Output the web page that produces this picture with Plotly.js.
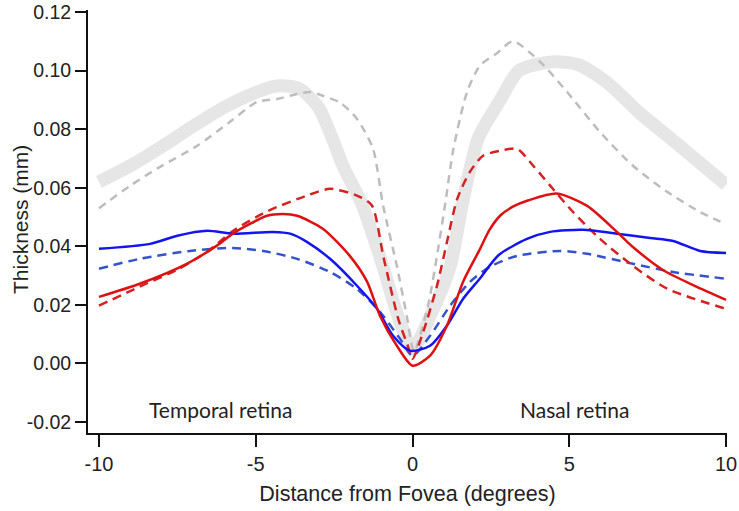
<!DOCTYPE html>
<html>
<head>
<meta charset="utf-8">
<script src="https://cdn.plot.ly/plotly-3.0.1.min.js"></script>
<style>html,body{margin:0;padding:0;background:#fff;}#chart{width:739px;height:511px;}</style>
</head>
<body>
<div id="chart"></div>
<script>
// ---- data ----
const xGraySolid = [-10, -9, -8, -7, -6, -5, -4.3, -3.6, -3.0, -2.6, -2.2, -1.6, -0.94, -0.46, 0, 0.6, 1.2, 1.6, 2.1, 2.8, 3.4, 4.5, 5.3, 6.2, 7.3, 8.1, 9, 10];
const yGraySolid = [0.062, 0.0675, 0.074, 0.081, 0.0875, 0.0925, 0.0948, 0.0938, 0.0875, 0.078, 0.067, 0.054, 0.033, 0.016, 0.005, 0.017, 0.033, 0.055, 0.077, 0.090, 0.100, 0.103, 0.102, 0.096, 0.085, 0.078, 0.070, 0.061];

const xGrayDash = [-10, -9, -8.15, -6.87, -5.82, -4.96, -4.32, -3.68, -3.27, -2.86, -2.3, -1.77, -1.26, -0.94, -0.5, -0.18, 0.05, 0.5, 0.8, 1.05, 1.3, 1.74, 2.15, 2.7, 3.2, 4.07, 4.93, 5.98, 7.03, 8.12, 9.17, 10];
const yGrayDash = [0.053, 0.0607, 0.0665, 0.0743, 0.0825, 0.0893, 0.0903, 0.092, 0.0927, 0.0914, 0.089, 0.0835, 0.0733, 0.054, 0.0333, 0.016, 0.004, 0.02, 0.038, 0.055, 0.073, 0.0927, 0.1017, 0.106, 0.110, 0.103, 0.0927, 0.079, 0.0675, 0.0586, 0.0517, 0.0475];

const xRedSolid = [-10, -8.7, -7.2, -6.24, -5.73, -4.64, -4.13, -3.68, -2.86, -2.0, -1.45, -1.04, -0.5, 0, 0.56, 1.1, 1.61, 2.15, 2.45, 2.8, 3.2, 3.7, 4.6, 5.57, 6.52, 7.0, 8.0, 9.0, 10];
const yRedSolid = [0.0227, 0.0272, 0.034, 0.0402, 0.0443, 0.0504, 0.051, 0.0504, 0.046, 0.0367, 0.0279, 0.0163, 0.006, -0.0008, 0.0026, 0.0129, 0.0278, 0.039, 0.0455, 0.0505, 0.0535, 0.0557, 0.058, 0.0538, 0.0449, 0.040, 0.0318, 0.0265, 0.0217];

const xRedDash = [-10, -8.7, -7.5, -6.5, -5.73, -4.64, -3.37, -2.63, -1.77, -1.3, -0.92, -0.45, -0.15, 0, 0.34, 0.78, 1.1, 1.42, 1.83, 2.25, 2.79, 3.33, 3.85, 4.39, 5.12, 5.98, 7.03, 8.12, 10];
const yRedDash = [0.0197, 0.0262, 0.032, 0.0385, 0.0452, 0.0519, 0.0573, 0.0596, 0.0573, 0.054, 0.036, 0.015, 0.006, 0.0016, 0.0107, 0.0265, 0.0415, 0.056, 0.0654, 0.0709, 0.0726, 0.0733, 0.0675, 0.0607, 0.0517, 0.0425, 0.0333, 0.0255, 0.0186];

const xBlueSolid = [-10, -8.37, -7.5, -6.55, -5.73, -4.45, -3.9, -3.37, -2.63, -1.77, -1.13, -0.62, -0.08, 0.56, 1.1, 1.61, 2.15, 2.75, 3.65, 4.39, 5.44, 6.52, 7.58, 8.31, 9.17, 10];
const yBlueSolid = [0.0391, 0.0408, 0.0436, 0.0453, 0.0443, 0.0449, 0.0443, 0.0415, 0.0357, 0.0265, 0.0186, 0.0094, 0.0043, 0.006, 0.0129, 0.022, 0.029, 0.037, 0.0425, 0.0449, 0.0456, 0.0443, 0.0428, 0.0418, 0.0384, 0.0377];

const xBlueDash = [-10, -8.7, -7.1, -5.73, -4.77, -3.68, -2.63, -1.77, -1.04, -0.4, 0, 0.56, 1.2, 1.83, 2.47, 3.33, 4.7, 5.57, 7.03, 8.31, 10];
const yBlueDash = [0.0323, 0.0357, 0.0384, 0.0394, 0.0384, 0.0357, 0.0312, 0.0254, 0.0176, 0.0084, 0.0026, 0.0094, 0.0197, 0.0278, 0.033, 0.0367, 0.0384, 0.0374, 0.034, 0.0312, 0.0289];

const xTickVals = [-10, -5, 0, 5, 10];
const xTickText = ["-10", "-5", "0", "5", "10"];
const yTickVals = [-0.02, 0, 0.02, 0.04, 0.06, 0.08, 0.10, 0.12];
const yTickText = ["-0.02", "0.00", "0.02", "0.04", "0.06", "0.08", "0.10", "0.12"];

const xTitle = 'Distance from Fovea (degrees)';
const yTitle = 'Thickness (mm)';
const regionLabels = ["Temporal retina", "Nasal retina"];
const regionX = [-6.14, 5.18];
const regionY = [-0.0158, -0.0158];

function tr(x, y, color, width, dash) {
  return {x: x, y: y, type: 'scatter', mode: 'lines', hoverinfo: 'skip',
    line: {color: color, width: width, dash: dash, shape: 'spline', smoothing: 0.7}};
}

const traces = [
  tr(xGraySolid, yGraySolid, '#e6e6e6', 13, 'solid'),
  tr(xGrayDash, yGrayDash, '#bdbdbd', 2.5, '8px,6px'),
  tr(xBlueDash, yBlueDash, '#3352cc', 2.5, '9px,6px'),
  tr(xRedDash, yRedDash, '#d42222', 2.5, '9px,6px'),
  tr(xBlueSolid, yBlueSolid, '#1414f0', 2.5, 'solid'),
  tr(xRedSolid, yRedSolid, '#dd1111', 2.5, 'solid')
];

const annotations = regionLabels.map((t, i) => ({
  x: regionX[i], y: regionY[i], xref: 'x', yref: 'y', text: t, showarrow: false,
  font: {family: 'Lato, Open Sans, sans-serif', size: 21, color: '#222'}
}));
annotations.push({
  x: -0.1064, y: 0.5035, xref: 'paper', yref: 'paper', text: yTitle, showarrow: false,
  textangle: -90, xanchor: 'center', yanchor: 'middle',
  font: {family: 'Liberation Sans, Arial, sans-serif', size: 21, color: '#222'}
});

const layout = {
  width: 739, height: 511,
  margin: {l: 88, r: 12, t: 10, b: 78},
  paper_bgcolor: '#fff', plot_bgcolor: '#fff',
  showlegend: false,
  font: {family: 'Liberation Sans, Arial, sans-serif', size: 19, color: '#222'},
  xaxis: {
    range: [-10.35, 10.03], showgrid: false, zeroline: false,
    showline: true, linecolor: '#111', linewidth: 2,
    ticks: 'outside', ticklen: 12, tickwidth: 2, tickcolor: '#111',
    tickvals: xTickVals, ticktext: xTickText,
    tickfont: {size: 20, color: '#222'},
    title: {text: xTitle, font: {size: 21.5, color: '#222'}, standoff: 12}
  },
  yaxis: {
    range: [-0.0238, 0.1207], showgrid: false, zeroline: false,
    showline: true, linecolor: '#111', linewidth: 2,
    ticks: 'outside', ticklen: 11, tickwidth: 2, tickcolor: '#111',
    tickvals: yTickVals, ticktext: yTickText,
    tickfont: {size: 19.5, color: '#222'}
  },
  annotations: annotations
};

Plotly.newPlot('chart', traces, layout, {displayModeBar: false, staticPlot: true});
</script>
</body>
</html>
